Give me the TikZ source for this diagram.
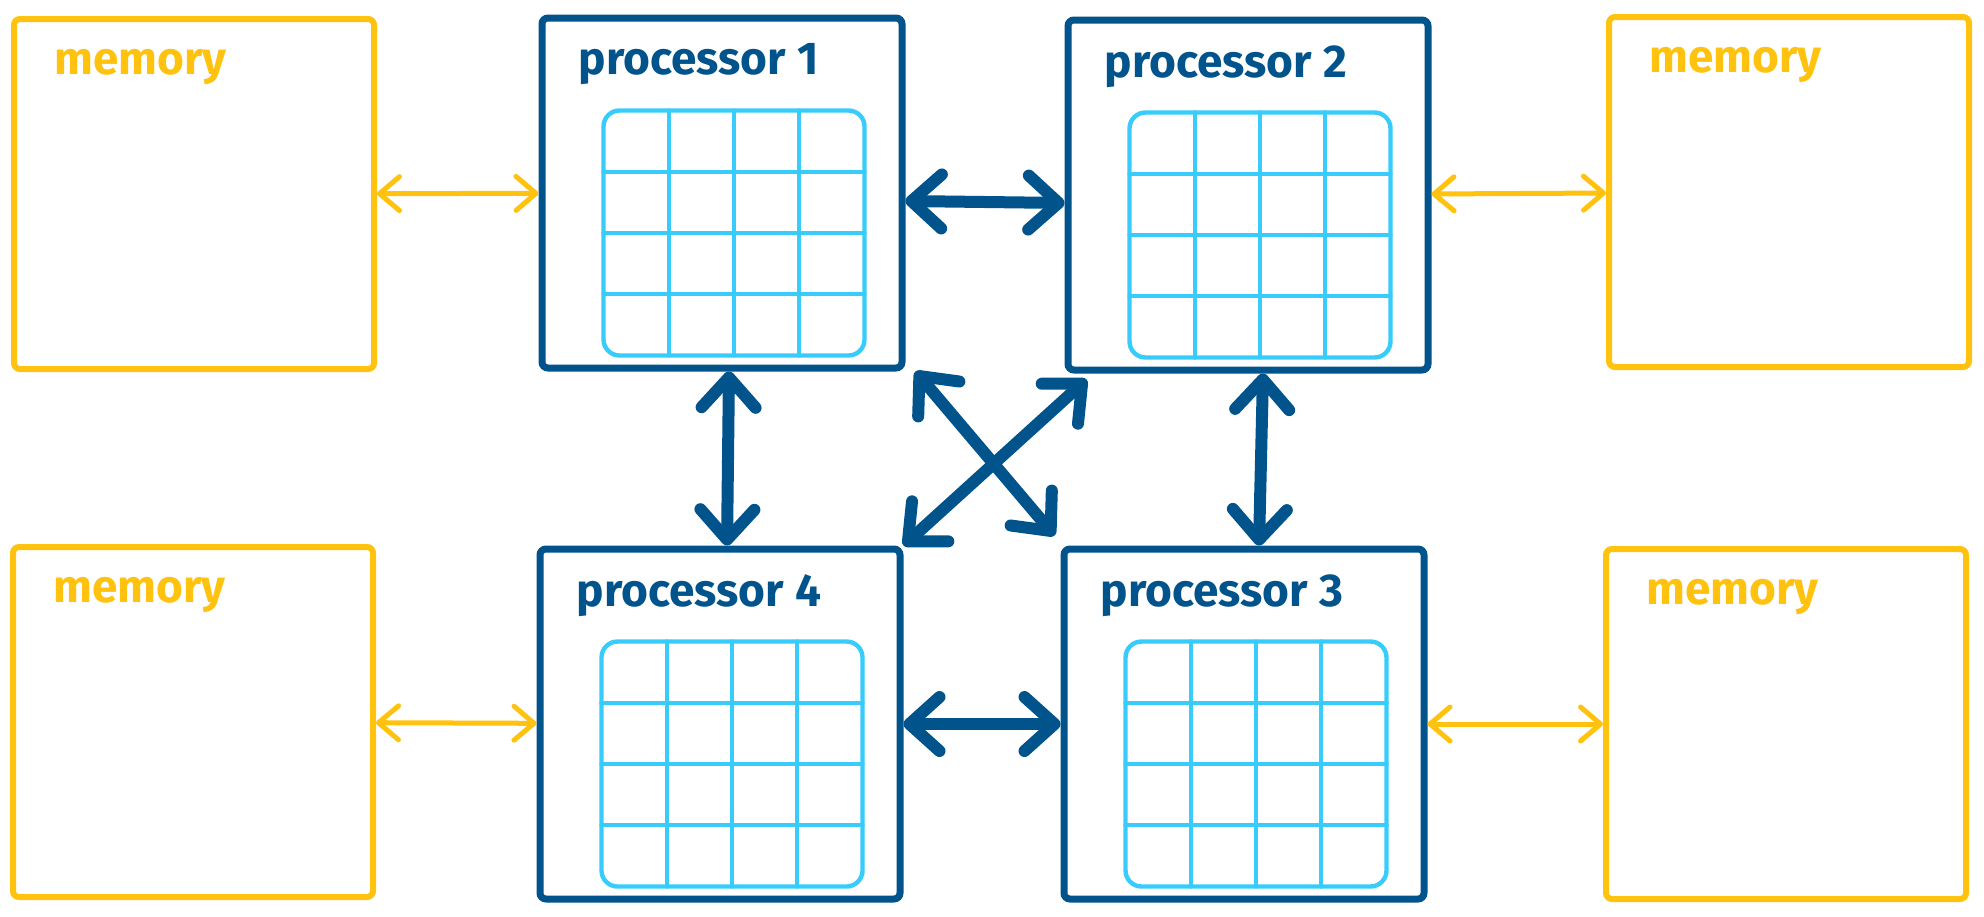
\documentclass[tikz,border=0pt]{standalone}
\usepackage{fontspec}
\setmainfont{Fira Sans}
\usetikzlibrary{arrows.meta,calc}
\definecolor{memyellow}{HTML}{FFC20E}
\definecolor{procblue}{HTML}{01538C}
\definecolor{gridcyan}{HTML}{38CCFC}
\tikzset{
  membox/.style={draw=memyellow,line width=3pt,rounded corners=3pt,minimum width=180pt,minimum height=175pt},
  procbox/.style={draw=procblue,line width=3.5pt,rounded corners=3pt,minimum width=180pt,minimum height=175pt},
  memtext/.style={text=memyellow,font=\bfseries\fontsize{23}{23}\selectfont,anchor=west,inner sep=0pt},
  proctext/.style={text=procblue,font=\bfseries\fontsize{23}{23}\selectfont,anchor=west,inner sep=0pt},
  gridline/.style={draw=gridcyan,line width=2.2pt,line cap=round},
  memlink/.style={draw=memyellow,line width=2.5pt,line cap=round,>={Straight Barb[length=10pt,width=17pt,round]},<->},
  proclink/.style={draw=procblue,line width=6pt,line cap=round,>={Straight Barb[length=15pt,width=27pt,round]},<->}
}
\begin{document}
\begin{tikzpicture}[x=0.5pt,y=-0.5pt]
  \useasboundingbox (0,0) rectangle (1984,916);

  % memory and processor boxes
  \node[membox] (m1) at (194,194) {};
  \node[procbox] (p1) at (722,193) {};
  \node[procbox] (p2) at (1248,195) {};
  \node[membox] (m2) at (1789,192) {};
  \node[membox] (m4) at (193,722) {};
  \node[procbox] (p4) at (720,724) {};
  \node[procbox] (p3) at (1244,724) {};
  \node[membox] (m3) at (1786,724) {};

  \node[memtext] (m1t) at ($(m1.north west)+(43,51)$) {memory};
  \node[memtext] (m2t) at ($(m2.north west)+(43,51)$) {memory};
  \node[memtext] (m3t) at ($(m3.north west)+(43,51)$) {memory};
  \node[memtext] (m4t) at ($(m4.north west)+(43,51)$) {memory};
  \node[proctext] (p1t) at ($(p1.north west)+(40,50)$) {processor 1};
  \node[proctext] (p2t) at ($(p2.north west)+(40,50)$) {processor 2};
  \node[proctext] (p3t) at ($(p3.north west)+(40,50)$) {processor 3};
  \node[proctext] (p4t) at ($(p4.north west)+(40,50)$) {processor 4};

  % local grids
  \foreach \p in {p1,p2,p3,p4}{
    \begin{scope}[shift={(\p.north west)}]
      \draw[gridline,rounded corners=8pt] (65,96) rectangle (326,341);
      \foreach \i in {1,2,3}{
        \draw[gridline] ({65+65.25*\i},96) -- ({65+65.25*\i},341);
        \draw[gridline] (65,{96+61.25*\i}) -- (326,{96+61.25*\i});
      }
    \end{scope}
  }

  % links
  \draw[memlink] (m1) -- (p1);
  \draw[memlink] (p2) -- (m2);
  \draw[memlink] (m4) -- (p4);
  \draw[memlink] (p3) -- (m3);
  \draw[proclink] ([yshift=-4pt]p1.east) -- ([yshift=-4pt]p2.west);
  \draw[proclink] (p4) -- (p3);
  \draw[proclink] ([xshift=3.5pt]p1.south) -- ([xshift=3.5pt]p4.north);
  \draw[proclink] ([xshift=7.5pt]p2.south) -- ([xshift=7.5pt]p3.north);
  \draw[proclink] ([xshift=5pt]p1.south east) -- ([xshift=-3pt,yshift=5pt]p3.north west);
  \draw[proclink] ([xshift=11pt,yshift=-3pt]p2.south west) -- (p4.north east);
\end{tikzpicture}
\end{document}
